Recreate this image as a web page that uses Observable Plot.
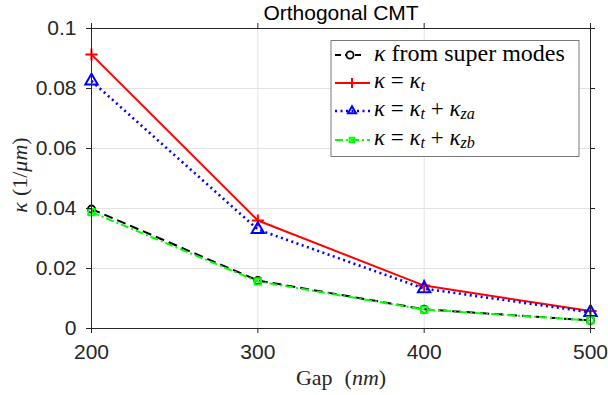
<!DOCTYPE html>
<html><head><meta charset="utf-8">
<script src="https://cdn.jsdelivr.net/npm/d3@7"></script>
<script src="https://cdn.jsdelivr.net/npm/@observablehq/plot@0.6"></script>
<style>body{margin:0;background:#fff}svg{display:block}</style>
</head><body><div id="chart"></div>
<script>
const gap = [200, 300, 400, 500];
const superModes = [0.0398, 0.0160, 0.0064, 0.0027];
const kappaT = [0.0913, 0.0360, 0.0143, 0.0058];
const kappaZa = [0.0825, 0.0330, 0.0133, 0.0054];
const kappaZb = [0.0388, 0.0157, 0.0063, 0.0027];
const xTicks = [200, 300, 400, 500];
const yTicks = [0, 0.02, 0.04, 0.06, 0.08, 0.1];
const title = "Orthogonal CMT";

const series = [
  {name: "super", vals: superModes, color: "#000000", dash: "9,5", width: 2, symbol: "circle", r: 3.6, sw: 1.8},
  {name: "t", vals: kappaT, color: "#ff0000", dash: null, width: 2, symbol: "plus", r: 4, sw: 2},
  {name: "za", vals: kappaZa, color: "#0000ff", dash: "2,3.5", width: 2.6, symbol: "triangle", r: 4.6, sw: 2},
  {name: "zb", vals: kappaZb, color: "#00ff00", dash: "8,3,2,3", width: 2, symbol: "square", r: 3.6, sw: 2}
];
const rows = series.flatMap(s => gap.map((g, i) => ({name: s.name, gap: g, v: s.vals[i]})));

const W = 608, H = 395, mL = 91, mR = 18, mT = 28, mB = 67;
const pw = W - mL - mR, ph = H - mT - mB;
const font = "Liberation Sans, Arial, sans-serif";
const serif = "Liberation Serif, Times New Roman, serif";
const axisColor = "#262626";

const marks = [
  Plot.gridY(yTicks, {stroke: "#e3e3e3", strokeOpacity: 1, strokeWidth: 1}),
  Plot.gridX(xTicks, {stroke: "#e3e3e3", strokeOpacity: 1, strokeWidth: 1}),
];
for (const s of series) {
  const d = rows.filter(r => r.name === s.name);
  marks.push(Plot.line(d, {x: "gap", y: "v", stroke: s.color, strokeWidth: s.width, strokeDasharray: s.dash, strokeLinecap: "butt"}));
  marks.push(Plot.dot(d, {x: "gap", y: "v", symbol: s.symbol, r: s.r, stroke: s.color, strokeWidth: s.sw, fill: "none"}));
}
marks.push(
  Plot.frame({stroke: axisColor, strokeWidth: 1}),
  Plot.tickY(yTicks, {y: d => d, stroke: axisColor, insetLeft: -5, insetRight: pw}),
  Plot.tickY(yTicks, {y: d => d, stroke: axisColor, insetLeft: pw, insetRight: -5}),
  Plot.tickX(xTicks, {x: d => d, stroke: axisColor, insetTop: ph, insetBottom: -5}),
  Plot.tickX(xTicks, {x: d => d, stroke: axisColor, insetTop: -5, insetBottom: ph}),
  Plot.axisY(yTicks, {tickSize: 0, tickPadding: 15, fontSize: 21, fill: axisColor, label: null, tickFormat: d => String(+d.toFixed(2))}),
  Plot.axisX(xTicks, {tickSize: 0, tickPadding: 16, fontSize: 21, fill: axisColor, label: null, tickFormat: d => String(d)}),
  Plot.text([title], {frameAnchor: "top", dy: -15, fontSize: 21, fill: "#000", lineAnchor: "middle"})
);

const plot = Plot.plot({
  width: W, height: H, marginLeft: mL, marginRight: mR, marginTop: mT, marginBottom: mB,
  style: {fontFamily: font, background: "#fff"},
  x: {domain: [200, 500]},
  y: {domain: [0, 0.1]},
  marks
});
document.getElementById("chart").appendChild(plot);

const svg = d3.select(plot);
function mathText(g, x, y, parts, size) {
  const t = g.append("text").attr("x", x).attr("y", y).attr("font-family", serif).attr("font-size", size)
    .attr("fill", "#000").attr("text-anchor", "start").attr("dominant-baseline", "middle");
  for (const p of parts) {
    const ts = t.append("tspan").text(p.t);
    if (p.i) ts.attr("font-style", "italic");
    if (p.sub) ts.attr("font-size", size * 0.7).attr("baseline-shift", "-30%");
  }
  return t;
}

// x label
const xl = svg.append("text").attr("x", 341).attr("y", 380).attr("text-anchor", "middle").attr("dominant-baseline", "middle")
  .attr("font-family", serif).attr("font-size", 22).attr("fill", axisColor);
xl.append("tspan").text("Gap");
xl.append("tspan").attr("dx", 12).text("(");
xl.append("tspan").attr("font-style", "italic").text("nm");
xl.append("tspan").text(")");

// y label
const yl = svg.append("text").attr("transform", "translate(22,175) rotate(-90)").attr("text-anchor", "middle").attr("dominant-baseline", "middle")
  .attr("font-family", serif).attr("font-size", 22).attr("fill", axisColor);
yl.append("tspan").attr("font-style", "italic").text("κ");
yl.append("tspan").attr("dx", 6).text("(1/");
yl.append("tspan").attr("font-style", "italic").text("μm");
yl.append("tspan").text(")");

// legend
const lg = svg.append("g");
lg.append("rect").attr("x", 331).attr("y", 40.5).attr("width", 248).attr("height", 116).attr("fill", "#fff").attr("stroke", "#7a7a7a").attr("stroke-width", 1);
const rowY = [55, 83, 111, 140];
const sizes = [24, 23, 23, 23];
const labels = [
  [{t: "κ", i: 1}, {t: " from super modes"}],
  [{t: "κ", i: 1}, {t: " = "}, {t: "κ", i: 1}, {t: "t", i: 1, sub: 1}],
  [{t: "κ", i: 1}, {t: " = "}, {t: "κ", i: 1}, {t: "t", i: 1, sub: 1}, {t: " + "}, {t: "κ", i: 1}, {t: "za", i: 1, sub: 1}],
  [{t: "κ", i: 1}, {t: " = "}, {t: "κ", i: 1}, {t: "t", i: 1, sub: 1}, {t: " + "}, {t: "κ", i: 1}, {t: "zb", i: 1, sub: 1}]
];
const symMap = {circle: d3.symbolCircle, plus: d3.symbolPlus, triangle: d3.symbolTriangle2, square: d3.symbolSquare2};
series.forEach((s, i) => {
  const y = rowY[i];
  const x1 = 335, x2 = i === 0 ? 362 : 370, xm = i === 0 ? 350 : 352;
  lg.append("line").attr("x1", x1).attr("x2", x2).attr("y1", y).attr("y2", y).attr("stroke", s.color).attr("stroke-width", s.width).attr("stroke-dasharray", i === 0 ? "6,4" : s.dash);
  lg.append("path").attr("d", d3.symbol(symMap[s.symbol], Math.PI * s.r * s.r * (i === 0 ? 1 : 0.7))()).attr("transform", `translate(${xm},${y})`)
    .attr("fill", i === 0 ? "#fff" : "none").attr("stroke", s.color).attr("stroke-width", s.sw);
  mathText(lg, 374, y, labels[i], sizes[i]);
});
</script></body></html>
